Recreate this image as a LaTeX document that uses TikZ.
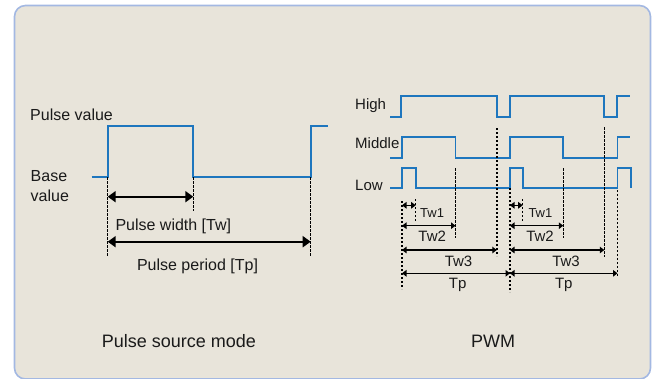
\documentclass[tikz,border=0pt]{standalone}
\usepackage{fontspec}
\setmainfont{Liberation Sans}
\usetikzlibrary{arrows.meta}
\definecolor{bg}{HTML}{E8E4DA}
\definecolor{frame}{HTML}{A3B8E2}
\definecolor{wavec}{HTML}{1E76BE}
\definecolor{txt}{HTML}{1A1A1A}
\begin{document}
\begin{tikzpicture}[x=1pt,y=-1pt,
  wave/.style={draw=wavec, line width=1.9pt, line join=miter},
  guide/.style={draw=black, line width=1.5pt, dash pattern=on 2.4pt off 1.6pt},
  bigdim/.style={draw=black, line width=1.9pt, {Triangle[length=8pt,width=11pt]}-{Triangle[length=8pt,width=11pt]}},
  smalldim/.style={draw=black, line width=1.4pt, {Triangle[length=4.5pt,width=6.5pt]}-{Triangle[length=4.5pt,width=6.5pt]}},
  lbl/.style={text=txt, inner sep=0pt, font=\fontsize{16}{19}\selectfont},
  plbl/.style={text=txt, inner sep=0pt, font=\fontsize{15}{18}\selectfont},
  slbl/.style={text=txt, inner sep=0pt, font=\fontsize{13}{16}\selectfont},
  title/.style={text=txt, inner sep=0pt, font=\fontsize{18}{21}\selectfont}]
\useasboundingbox (0,0) rectangle (656,378);
\clip (0,0) rectangle (656,378);
\draw[fill=bg, draw=frame, line width=1.6pt, rounded corners=11pt] (14.5,5.5) rectangle (650.5,379);

% ---------- Pulse source mode ----------
\draw[wave] (91.7,177.3) -- (107.7,177.3) -- (107.7,126) -- (193.3,126) -- (193.3,177.3) -- (310.7,177.3) -- (310.7,126) -- (328,126);

\coordinate (g1t) at (107.7,177.3); \coordinate (g1b) at (107.7,256);
\coordinate (g2t) at (193.3,177.3); \coordinate (g2b) at (193.3,211);
\coordinate (g3t) at (310.7,177.3); \coordinate (g3b) at (310.7,256);
\draw[guide] (g1t) -- (g1b);
\draw[guide] (g2t) -- (g2b);
\draw[guide] (g3t) -- (g3b);

\coordinate (twL) at (107.7,196.7); \coordinate (twR) at (193.3,196.7);
\coordinate (tpL) at (107.7,241.7); \coordinate (tpR) at (310.7,241.7);
\draw[bigdim] (twL) -- (twR);
\draw[bigdim] (tpL) -- (tpR);

\node[lbl, anchor=base west] (pv) at (30,120) {Pulse value};
\node[lbl, anchor=base west] (bv1) at (30.5,181) {Base};
\node[lbl, anchor=base west] (bv2) at (30.5,201) {value};
\node[lbl, anchor=base] (pw) at (173.3,230) {Pulse width [Tw]};
\node[lbl, anchor=base] (pp) at (197.5,270.7) {Pulse period [Tp]};
\node[title, anchor=base] (t1) at (179,347.7) {Pulse source mode};

% ---------- PWM ----------
\draw[wave] (390,117.3) -- (401,117.3) -- (401,96) -- (497.3,96) -- (497.3,117.3) -- (510,117.3) -- (510,96) -- (604.3,96) -- (604.3,117.3) -- (617,117.3) -- (617,96) -- (630,96);
\draw[wave] (390,157.7) -- (402,157.7) -- (402,137.3) -- (455.5,137.3) -- (455.5,157.7) -- (510,157.7) -- (510,137.3) -- (563.3,137.3) -- (563.3,157.7) -- (617.5,157.7) -- (617.5,137.3) -- (630,137.3);
\draw[wave] (390,188) -- (402,188) -- (402,168.3) -- (415.7,168.3) -- (415.7,188) -- (510,188) -- (510,168.3) -- (522.7,168.3) -- (522.7,188) -- (617.5,188) -- (617.5,168.3) -- (630.7,168.3) -- (630.7,188);

\node[plbl, anchor=base west] (hi) at (355,109.3) {High};
\node[plbl, anchor=base west] (mi) at (355,148.3) {Middle};
\node[plbl, anchor=base west] (lo) at (355,190) {Low};

% guides
\coordinate (a0t) at (402,201);   \coordinate (a0b) at (402,289);
\coordinate (a1t) at (415.7,199); \coordinate (a1b) at (415.7,222);
\coordinate (a2t) at (455.5,168.3); \coordinate (a2b) at (455.5,238.3);
\coordinate (a3t) at (496.8,128); \coordinate (a3b) at (496.8,256);
\coordinate (b0t) at (510,188);   \coordinate (b0b) at (510,292);
\coordinate (b1t) at (522.7,199); \coordinate (b1b) at (522.7,222);
\coordinate (b2t) at (563.3,168.3); \coordinate (b2b) at (563.3,238.3);
\coordinate (b3t) at (604.3,127.3); \coordinate (b3b) at (604.3,256.7);
\coordinate (c0t) at (617.5,190); \coordinate (c0b) at (617.5,277.3);
\foreach \n in {a0,a1,a2,a3,b0,b1,b2,b3,c0} \draw[guide] (\n t) -- (\n b);

% dimension arrows
\coordinate (d1a) at (402,205.3); \coordinate (d1b) at (415.7,205.3);
\coordinate (d2a) at (402,225.7); \coordinate (d2b) at (455.5,225.7);
\coordinate (d3a) at (402,250);   \coordinate (d3b) at (496.8,250);
\coordinate (d4a) at (402,273.3); \coordinate (d4b) at (510,273.3);
\coordinate (e1a) at (510,205.3); \coordinate (e1b) at (522.7,205.3);
\coordinate (e2a) at (510,225.7); \coordinate (e2b) at (563.3,225.7);
\coordinate (e3a) at (510,250);   \coordinate (e3b) at (604.3,250);
\coordinate (e4a) at (510,273.3); \coordinate (e4b) at (617.5,273.3);
\foreach \n in {d1,d2,d3,d4,e1,e2,e3,e4} \draw[smalldim] (\n a) -- (\n b);

\node[slbl, anchor=base west] (l1) at (420,217.3) {Tw1};
\node[plbl, anchor=base] (l2) at (432.2,241.7) {Tw2};
\node[plbl, anchor=base] (l3) at (458.5,266) {Tw3};
\node[plbl, anchor=base] (l4) at (457.7,288.7) {Tp};
\node[slbl, anchor=base west] (m1) at (528.3,217.3) {Tw1};
\node[plbl, anchor=base] (m2) at (540,241.7) {Tw2};
\node[plbl, anchor=base] (m3) at (566,266) {Tw3};
\node[plbl, anchor=base] (m4) at (563.8,288.7) {Tp};

\node[title, anchor=base] (t2) at (493,347.7) {PWM};
\end{tikzpicture}
\end{document}
